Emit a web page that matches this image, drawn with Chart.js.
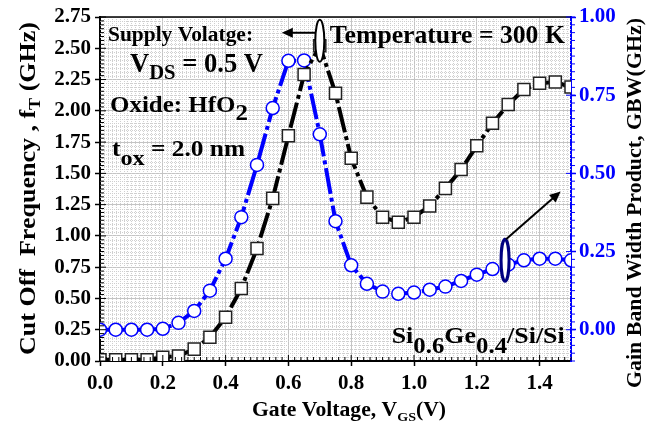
<!DOCTYPE html>
<html><head><meta charset="utf-8">
<script src="https://cdn.jsdelivr.net/npm/chart.js@4/dist/chart.umd.min.js"></script>
<style>html,body{margin:0;padding:0;background:#fff}canvas{display:block}</style>
</head><body>
<canvas id="c" width="651" height="427"></canvas>
<script>
const gateVoltage = [0.00,0.05,0.10,0.15,0.20,0.25,0.30,0.35,0.40,0.45,0.50,0.55,0.60,0.65,0.70,0.75,0.80,0.85,0.90,0.95,1.00,1.05,1.10,1.15,1.20,1.25,1.30,1.35,1.40,1.45,1.50];
const cutoffFreq = [0.01,0.01,0.01,0.01,0.03,0.04,0.095,0.19,0.35,0.58,0.90,1.30,1.80,2.29,2.52,2.14,1.62,1.31,1.15,1.11,1.15,1.24,1.38,1.53,1.72,1.90,2.05,2.17,2.22,2.23,2.19];
const gbwProduct = [0.00,0.00,0.00,0.00,0.003,0.022,0.06,0.125,0.227,0.36,0.527,0.709,0.86,0.861,0.625,0.347,0.206,0.147,0.122,0.115,0.119,0.128,0.138,0.156,0.176,0.194,0.208,0.222,0.227,0.227,0.222];
const xTickLabels = ['0.0','0.2','0.4','0.6','0.8','1.0','1.2','1.4'];
const leftTickLabels = ['0.00','0.25','0.50','0.75','1.00','1.25','1.50','1.75','2.00','2.25','2.50','2.75'];
const rightTickLabels = ['0.00','0.25','0.50','0.75','1.00'];

const FONT = "'Liberation Serif', 'Times New Roman', serif";

function fontStr(size){ return `bold ${size}px ${FONT}`; }
function richText(ctx, segs, x, y, targetW, align, color){
  let w = 0;
  segs.forEach(s => { ctx.font = fontStr(s[1]); w += ctx.measureText(s[0]).width; });
  const sx = targetW ? targetW / w : 1;
  ctx.save();
  ctx.translate(x, y);
  ctx.scale(sx, 1);
  ctx.fillStyle = color || '#000';
  ctx.textBaseline = 'alphabetic';
  ctx.textAlign = 'left';
  let cx = align === 'center' ? -w / 2 : 0;
  segs.forEach(s => {
    ctx.font = fontStr(s[1]);
    ctx.fillText(s[0], cx, s[2]);
    cx += ctx.measureText(s[0]).width;
  });
  ctx.restore();
}

const annotations = [
  {x:0.0255, y:2.556, w:145, segs:[['Supply Volatge:',20,0]]},
  {x:0.0955, y:2.312, w:133, segs:[['V',27,0],['DS',21,7],[' = 0.5 V',27,0]]},
  {x:0.0318, y:1.992, w:138, segs:[['Oxide: HfO',23,0],['2',23,8]]},
  {x:0.0382, y:1.640, w:133, segs:[['t',23,0],['ox',22,9],[' = 2.0 nm',23,0]]},
  {x:0.732, y:2.544, w:235, segs:[['Temperature = 300 K',25,0]]},
  {x:0.929, y:0.144, w:173, segs:[['Si',24,0],['0.6',23,10],['Ge',24,0],['0.4',23,10],['/Si/Si',24,0]]}
];

function arrow(ctx, x1, y1, x2, y2, color, lw){
  const a = Math.atan2(y2 - y1, x2 - x1);
  const L = 11, H = 5;
  ctx.save();
  ctx.strokeStyle = color; ctx.fillStyle = color; ctx.lineWidth = lw;
  ctx.beginPath();
  ctx.moveTo(x1, y1);
  ctx.lineTo(x2 - L * 0.8 * Math.cos(a), y2 - L * 0.8 * Math.sin(a));
  ctx.stroke();
  ctx.beginPath();
  ctx.moveTo(x2, y2);
  ctx.lineTo(x2 - L * Math.cos(a) + H * Math.sin(a), y2 - L * Math.sin(a) - H * Math.cos(a));
  ctx.lineTo(x2 - L * Math.cos(a) - H * Math.sin(a), y2 - L * Math.sin(a) + H * Math.cos(a));
  ctx.closePath();
  ctx.fill();
  ctx.restore();
}
function ellipse(ctx, cx, cy, rx, ry, color, lw){
  ctx.save();
  ctx.beginPath();
  ctx.ellipse(cx, cy, rx, ry, 0, 0, Math.PI * 2);
  ctx.fillStyle = '#fff'; ctx.fill();
  ctx.strokeStyle = color; ctx.lineWidth = lw; ctx.stroke();
  ctx.restore();
}

const minorGrid = {
  id: 'minorGrid',
  beforeDatasetsDraw(chart){
    const {ctx, chartArea: a, scales} = chart;
    ctx.save();
    ctx.strokeStyle = '#cfcfcf';
    ctx.lineWidth = 1;
    ctx.setLineDash([1, 1]);
    for (let i = 1; i < 120; i++){
      if (i % 16 === 0) continue;
      const px = Math.round(scales.x.getPixelForValue(i * 0.0125)) + 0.5;
      if (px >= a.right) break;
      ctx.beginPath(); ctx.moveTo(px, a.top); ctx.lineTo(px, a.bottom); ctx.stroke();
    }
    for (let i = 1; i < 88; i++){
      if (i % 8 === 0) continue;
      const py = Math.round(scales.y.getPixelForValue(i * 0.03125)) + 0.5;
      if (py <= a.top) break;
      ctx.beginPath(); ctx.moveTo(a.left, py); ctx.lineTo(a.right, py); ctx.stroke();
    }
    ctx.restore();
  },
  afterDraw(chart){
    const {ctx, chartArea: a, scales} = chart;
    ctx.save();
    ctx.strokeStyle = '#000'; ctx.lineWidth = 1.5;
    ctx.beginPath(); ctx.moveTo(a.left, a.top); ctx.lineTo(a.right, a.top); ctx.stroke();
    ctx.lineWidth = 1;
    for (let i = 0; i <= 75; i++){
      const px = scales.x.getPixelForValue(i * 0.02);
      if (px > a.right + 0.5) break;
      const len = (i % 10 === 0) ? 6 : 4;
      ctx.beginPath(); ctx.moveTo(px, a.bottom); ctx.lineTo(px, a.bottom - len); ctx.stroke();
    }
    for (let i = 0; i <= 88; i++){
      const py = scales.y.getPixelForValue(i * 0.03125);
      const len = (i % 8 === 0) ? 6 : 4;
      ctx.beginPath(); ctx.moveTo(a.left, py); ctx.lineTo(a.left + len, py); ctx.stroke();
    }
    ctx.strokeStyle = '#0000ff';
    for (let i = -4; i <= 40; i++){
      const py = scales.y2.getPixelForValue(i * 0.025);
      if (py > a.bottom + 0.5 || py < a.top - 0.5) continue;
      ctx.beginPath(); ctx.moveTo(a.right, py); ctx.lineTo(a.right + 4, py); ctx.stroke();
      if (i % 10 === 0){ ctx.beginPath(); ctx.moveTo(a.right, py); ctx.lineTo(a.right - 5, py); ctx.stroke(); }
    }
    ctx.restore();

    annotations.forEach(an => {
      richText(ctx, an.segs, scales.x.getPixelForValue(an.x), scales.y.getPixelForValue(an.y), an.w, 'left');
    });
    const e1x = scales.x.getPixelForValue(0.7), e1y = scales.y.getPixelForValue(2.56);
    arrow(ctx, e1x - 4, scales.y.getPixelForValue(2.624), scales.x.getPixelForValue(0.579), scales.y.getPixelForValue(2.624), '#000', 2);
    ellipse(ctx, e1x, e1y, 4.5, 21, '#000', 2);
    const e2x = scales.x.getPixelForValue(1.29), e2y = scales.y2.getPixelForValue(0.222);
    ellipse(ctx, e2x, e2y, 4, 21, '#000080', 3);
    arrow(ctx, e2x + 1, e2y - 21, scales.x.getPixelForValue(1.467), scales.y2.getPixelForValue(0.442), '#000', 2);

    ctx.save();
    ctx.translate(35, 188.5); ctx.rotate(-Math.PI / 2);
    richText(ctx, [['Cut Off  Frequency , f',23,0],['T',16,5],[' (GHz)',23,0]], 0, 0, 333, 'center');
    ctx.restore();
    ctx.save();
    ctx.translate(641, 203); ctx.rotate(-Math.PI / 2);
    richText(ctx, [['Gain Band Width Product, GBW(GHz)',22,0]], 0, 0, 370, 'center');
    ctx.restore();
    richText(ctx, [['Gate Voltage, V',20,0],['GS',13,5],['(V)',20,0]], 349, 416, 194, 'center');
  }
};

const ptsFT = gateVoltage.map((x, i) => ({x, y: cutoffFreq[i]}));
const ptsGBW = gateVoltage.map((x, i) => ({x, y: gbwProduct[i]}));
const tickFont = {family: FONT, size: 21, weight: 'bold'};
const findLabel = (arr, v) => { const t = arr.find(s => Math.abs(parseFloat(s) - v) < 1e-9); return t === undefined ? '' : t; };

new Chart(document.getElementById('c'), {
  type: 'line',
  data: {
    datasets: [
      {label: 'fT', data: ptsFT, yAxisID: 'y', borderColor: '#000', borderWidth: 4, borderDash: [26,4,4,4],
       pointStyle: 'rect', pointRadius: 8.5, pointBorderWidth: 1.5, pointBorderColor: '#222', pointBackgroundColor: '#fff', tension: 0},
      {label: 'GBW', data: ptsGBW, yAxisID: 'y2', borderColor: '#0000ff', borderWidth: 4, borderDash: [26,4,4,4],
       pointStyle: 'circle', pointRadius: 6.5, pointBorderWidth: 1.5, pointBorderColor: '#0000ff', pointBackgroundColor: '#fff', tension: 0}
    ]
  },
  options: {
    responsive: false, animation: false, devicePixelRatio: 1,
    layout: {padding: {top: 17, left: 0, right: 0, bottom: 0}},
    plugins: {legend: {display: false}, tooltip: {enabled: false}},
    scales: {
      x: {type: 'linear', min: 0, max: 1.5, position: 'bottom',
          afterBuildTicks: s => { s.ticks = xTickLabels.map(t => ({value: parseFloat(t)})); },
          ticks: {font: tickFont, color: '#000', padding: 5, maxRotation: 0, autoSkip: false, callback: v => findLabel(xTickLabels, v)},
          grid: {color: '#c4c4c4', lineWidth: 1, tickColor: '#000', tickLength: 5, tickWidth: 1.5},
          border: {color: '#000', width: 2},
          afterFit: s => { s.height = 66; }},
      y: {type: 'linear', min: 0, max: 2.75, position: 'left',
          afterBuildTicks: s => { s.ticks = leftTickLabels.map(t => ({value: parseFloat(t)})); },
          ticks: {font: tickFont, color: '#000', padding: 4, autoSkip: false, callback: v => findLabel(leftTickLabels, v)},
          grid: {color: '#c4c4c4', lineWidth: 1, tickColor: '#000', tickLength: 5, tickWidth: 1.5},
          border: {color: '#000', width: 2},
          afterFit: s => { s.width = 100; }},
      y2: {type: 'linear', min: -0.1, max: 1.0, position: 'right',
          afterBuildTicks: s => { s.ticks = rightTickLabels.map(t => ({value: parseFloat(t)})); },
          ticks: {font: tickFont, color: '#0000ff', padding: 3, autoSkip: false, callback: v => findLabel(rightTickLabels, v)},
          grid: {drawOnChartArea: false, tickColor: '#0000ff', tickLength: 5, tickWidth: 1.5},
          border: {color: '#0000ff', width: 2},
          afterFit: s => { s.width = 80; }}
    }
  },
  plugins: [minorGrid]
});
</script>
</body></html>
